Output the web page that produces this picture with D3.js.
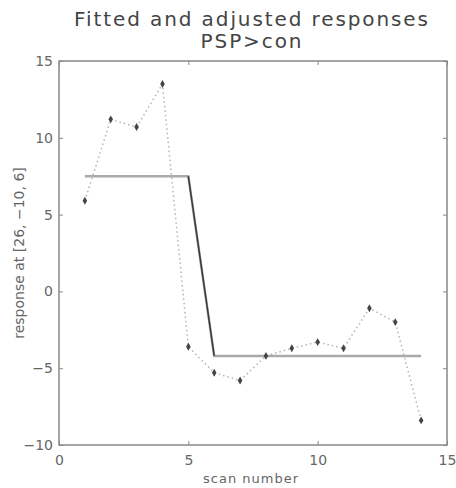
<!doctype html>
<html>
<head>
<meta charset="utf-8">
<title>Fitted and adjusted responses</title>
<style>
  body { margin: 0; background: #fff; }
  .tick text { font-family: "DejaVu Sans", sans-serif; font-size: 14px; fill: #666; }
  .lbl { font-family: "DejaVu Sans", sans-serif; fill: #666; }
  .ttl { font-family: "DejaVu Sans", sans-serif; fill: #444; }
</style>
<script src="https://d3js.org/d3.v7.min.js"></script>
</head>
<body>
<svg width="456" height="488"></svg>
<script>
var scans = [1, 2, 3, 4, 5, 6, 7, 8, 9, 10, 11, 12, 13, 14];
var adjusted = [5.9, 11.2, 10.7, 13.5, -3.6, -5.3, -5.8, -4.2, -3.7, -3.3, -3.7, -1.1, -2.0, -8.4];
var fitted = [7.5, 7.5, 7.5, 7.5, 7.5, -4.2, -4.2, -4.2, -4.2, -4.2, -4.2, -4.2, -4.2, -4.2];
var xTicks = [0, 5, 10, 15];
var yTicks = [-10, -5, 0, 5, 10, 15];

var svg = d3.select("svg");
var mLeft = 59, mRight = 447, mTop = 61, mBottom = 445;

var x = d3.scaleLinear().domain([0, 15]).range([mLeft, mRight]);
var y = d3.scaleLinear().domain([-10, 15]).range([mBottom, mTop]);

// box
svg.append("rect")
  .attr("x", mLeft).attr("y", mTop)
  .attr("width", mRight - mLeft).attr("height", mBottom - mTop)
  .attr("fill", "none").attr("stroke", "#888").attr("stroke-width", 1.5);

var xa = svg.append("g").attr("transform", "translate(0," + mBottom + ")")
  .call(d3.axisBottom(x).tickValues(xTicks).tickSizeInner(-4).tickSizeOuter(0).tickPadding(10));
var xt = svg.append("g").attr("transform", "translate(0," + mTop + ")")
  .call(d3.axisTop(x).tickValues(xTicks).tickSizeInner(-4).tickSizeOuter(0).tickFormat(""));
var ya = svg.append("g").attr("transform", "translate(" + mLeft + ",0)")
  .call(d3.axisLeft(y).tickValues(yTicks).tickSizeInner(-4).tickSizeOuter(0).tickPadding(6)
    .tickFormat(function(d) { return d < 0 ? "\u2212" + (-d) : d; }));
var yr = svg.append("g").attr("transform", "translate(" + mRight + ",0)")
  .call(d3.axisRight(y).tickValues(yTicks).tickSizeInner(-4).tickSizeOuter(0).tickFormat(""));
[xa, xt, ya, yr].forEach(function(g) {
  g.select(".domain").remove();
  g.selectAll(".tick line").attr("stroke", "#888");
});

// adjusted responses, dotted
var line = d3.line()
  .x(function(d, i) { return x(scans[i]); })
  .y(function(d) { return y(d); });

svg.append("path")
  .datum(adjusted)
  .attr("d", line)
  .attr("fill", "none")
  .attr("stroke", "#b4b4b4")
  .attr("stroke-width", 1.5)
  .attr("stroke-dasharray", "1.5,3");

// fitted response
svg.append("path")
  .datum(fitted)
  .attr("d", line)
  .attr("fill", "none")
  .attr("stroke", "#aaa")
  .attr("stroke-width", 2.5);

// sloped part looks darker
svg.append("line")
  .attr("x1", x(scans[4])).attr("y1", y(fitted[4]))
  .attr("x2", x(scans[5])).attr("y2", y(fitted[5]))
  .attr("stroke", "#3a3a3a").attr("stroke-width", 1.5);

svg.selectAll(".pt")
  .data(adjusted)
  .enter().append("path")
  .attr("class", "pt")
  .attr("d", d3.symbol().type(d3.symbolDiamond).size(18))
  .attr("transform", function(d, i) { return "translate(" + x(scans[i]) + "," + y(d) + ")"; })
  .attr("fill", "#444");

svg.append("text").attr("class", "ttl")
  .attr("x", 252).attr("y", 26).attr("text-anchor", "middle")
  .style("font-size", "20px").style("letter-spacing", "1.9px")
  .text("Fitted and adjusted responses");
svg.append("text").attr("class", "ttl")
  .attr("x", 252).attr("y", 48).attr("text-anchor", "middle")
  .style("font-size", "20px").style("letter-spacing", "1.9px")
  .text("PSP>con");

svg.append("text").attr("class", "lbl")
  .attr("x", 251).attr("y", 483).attr("text-anchor", "middle")
  .style("font-size", "13px").style("letter-spacing", "1px")
  .text("scan number");

svg.append("text").attr("class", "lbl")
  .attr("transform", "translate(24," + ((mTop + mBottom) / 2) + ") rotate(-90)")
  .attr("text-anchor", "middle")
  .style("font-size", "14px")
  .text("response at [26, \u221210, 6]");
</script>
</body>
</html>
